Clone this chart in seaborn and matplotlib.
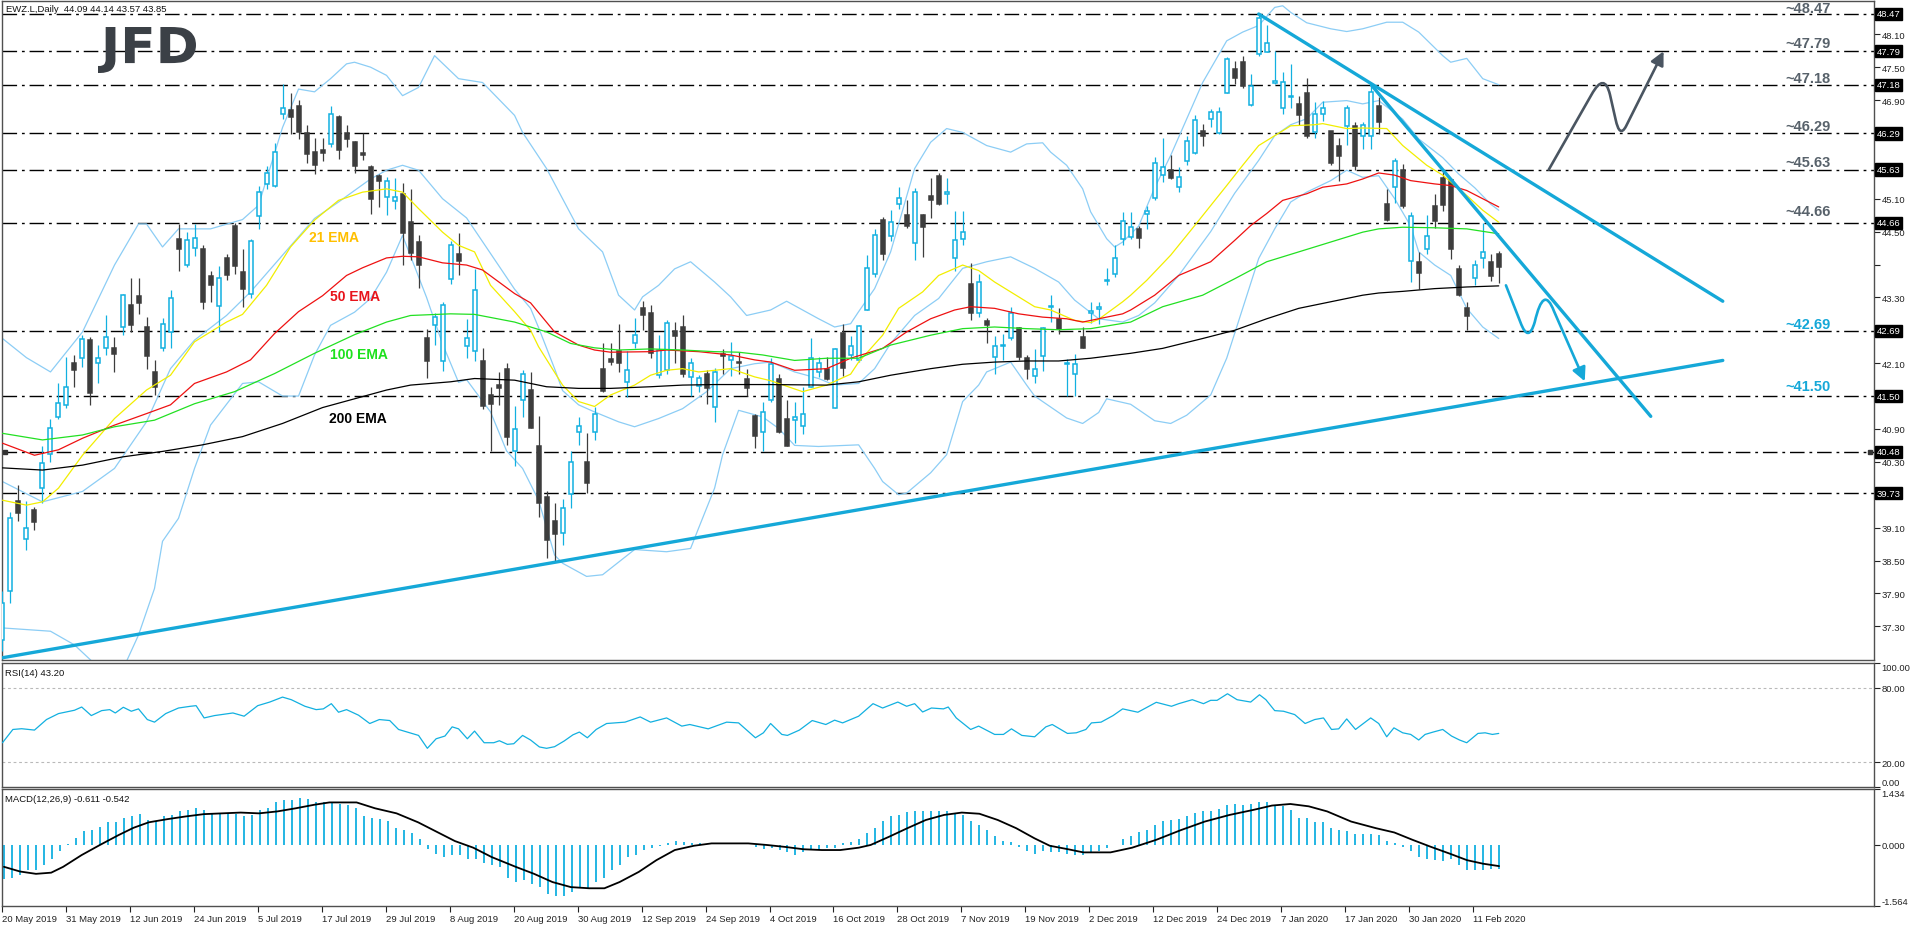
import numpy as np
import pandas as pd
import matplotlib
matplotlib.use("Agg")
import matplotlib.pyplot as plt
import matplotlib.transforms as mtransforms
from matplotlib.path import Path
from matplotlib.patches import FancyArrowPatch, PathPatch, ArrowStyle
from matplotlib.textpath import TextPath
from matplotlib.font_manager import FontProperties
import seaborn as sns

# ---------------------------------
# Daily candles EWZ.L (bar 0 = 20 May 2019)
# ---------------------------------

opens = [37.05, 37.94, 39.58, 38.90, 39.42, 39.83, 40.45, 41.12, 41.34, 42.11,
         42.19, 42.52, 42.11, 42.38, 42.37, 42.76, 43.16, 43.33, 42.76, 41.93,
         42.38, 42.66, 44.37, 43.89, 44.20, 44.19, 43.69, 43.14, 44.02, 44.61,
         43.76, 43.37, 44.78, 45.36, 45.34, 46.64, 46.71, 46.79, 46.30, 45.96,
         45.99, 46.10, 46.59, 46.29, 46.13, 45.93, 45.68, 45.51, 45.13, 45.06,
         45.19, 44.67, 44.31, 42.56, 42.80, 42.14, 43.64, 44.10, 42.42, 42.32,
         42.14, 41.52, 41.70, 41.99, 40.50, 41.43, 41.61, 40.58, 39.65, 39.22,
         39.01, 39.72, 40.85, 40.29, 40.84, 41.99, 42.17, 42.32, 41.75, 42.46,
         43.11, 43.02, 41.89, 41.97, 42.68, 42.76, 41.85, 41.69, 41.91, 41.30,
         42.27, 42.16, 42.12, 41.82, 41.14, 40.84, 41.43, 41.81, 41.09, 41.06,
         40.96, 41.67, 41.94, 42.00, 41.29, 42.65, 42.25, 42.16, 43.07, 43.73,
         44.72, 44.42, 45.00, 44.81, 44.29, 44.81, 45.15, 45.51, 45.19, 44.01,
         44.36, 43.55, 43.02, 42.87, 42.22, 42.42, 42.56, 42.74, 42.19, 41.87,
         42.23, 43.13, 42.90, 42.08, 41.91, 42.58, 43.02, 43.08, 43.59, 43.73,
         44.37, 44.40, 44.55, 44.83, 45.11, 45.53, 45.62, 45.31, 45.78, 45.94,
         46.33, 46.55, 46.30, 47.03, 47.47, 47.60, 46.81, 47.74, 47.78, 47.21,
         46.75, 46.95, 46.83, 47.03, 46.31, 46.65, 46.33, 46.07, 46.42, 46.42,
         46.24, 46.25, 46.80, 45.00, 45.31, 45.62, 43.96, 43.95, 44.18, 44.97,
         45.47, 45.45, 43.82, 43.11, 43.65, 44.01, 43.95, 44.09]

highs = [37.95, 39.39, 39.88, 39.58, 39.48, 40.58, 41.09, 41.73, 42.22, 42.25,
         42.61, 42.58, 42.43, 42.97, 42.58, 43.37, 43.65, 43.65, 42.94, 42.16,
         42.93, 43.44, 44.63, 44.49, 44.64, 44.25, 43.79, 43.87, 44.10, 44.66,
         44.19, 44.37, 45.34, 45.70, 46.12, 47.19, 47.02, 46.90, 46.44, 46.21,
         46.21, 46.80, 46.62, 46.45, 46.16, 46.30, 45.71, 45.55, 45.49, 45.48,
         45.39, 45.28, 44.44, 42.73, 43.02, 43.22, 44.32, 44.48, 42.90, 43.81,
         42.37, 41.67, 41.94, 42.11, 41.32, 41.97, 41.93, 41.14, 39.76, 39.54,
         39.63, 40.49, 41.12, 40.82, 41.30, 42.46, 42.46, 42.82, 42.32, 42.93,
         43.23, 43.16, 42.62, 42.88, 42.85, 42.97, 42.19, 41.89, 41.97, 42.02,
         42.36, 42.49, 42.31, 42.00, 41.17, 41.40, 42.19, 41.91, 41.43, 41.40,
         41.67, 42.56, 42.22, 42.22, 42.37, 42.82, 42.60, 42.80, 44.07, 44.55,
         44.76, 44.89, 45.31, 45.08, 45.29, 44.83, 45.48, 45.57, 45.48, 44.87,
         44.87, 43.93, 43.72, 42.93, 42.60, 42.64, 43.13, 42.76, 42.25, 42.35,
         42.76, 43.34, 43.11, 42.17, 42.26, 42.76, 43.21, 43.22, 43.84, 44.25,
         44.86, 44.86, 44.60, 44.96, 45.86, 46.20, 45.89, 45.68, 46.24, 46.63,
         46.47, 46.73, 46.77, 47.68, 47.62, 47.71, 47.38, 48.47, 48.27, 47.80,
         47.41, 47.56, 46.98, 47.30, 46.87, 46.89, 46.34, 46.21, 46.81, 46.50,
         46.50, 47.20, 46.95, 45.27, 45.84, 45.74, 44.86, 44.12, 44.81, 45.19,
         45.62, 45.48, 43.90, 43.22, 43.98, 44.66, 44.10, 44.14]

lows = [36.85, 37.72, 39.22, 38.69, 39.06, 39.54, 40.30, 41.09, 41.28, 41.67,
        42.03, 41.34, 41.73, 42.25, 41.94, 42.61, 42.66, 43.00, 41.99, 41.52,
        42.32, 42.38, 43.79, 43.86, 44.06, 43.08, 43.22, 42.67, 43.61, 43.73,
        43.13, 43.28, 44.54, 45.28, 45.31, 46.55, 46.28, 46.19, 45.76, 45.56,
        45.78, 46.04, 45.83, 46.04, 45.57, 45.80, 44.83, 44.95, 44.80, 44.91,
        43.89, 43.99, 43.47, 41.83, 42.43, 41.96, 43.55, 43.70, 42.19, 42.14,
        41.27, 40.49, 41.34, 40.61, 40.23, 41.12, 40.91, 39.30, 38.55, 38.48,
        38.79, 39.45, 40.60, 39.73, 40.70, 41.58, 42.06, 41.93, 41.49, 42.38,
        42.70, 42.19, 41.83, 41.91, 42.11, 41.85, 41.51, 41.58, 41.35, 41.03,
        41.91, 41.87, 41.91, 41.51, 40.56, 40.50, 41.40, 40.82, 40.58, 40.64,
        40.80, 41.67, 41.85, 41.79, 41.29, 41.86, 42.16, 42.12, 43.07, 43.67,
        43.99, 44.32, 44.91, 44.57, 43.99, 44.04, 44.75, 44.98, 45.01, 43.78,
        44.26, 42.88, 42.94, 42.46, 41.91, 42.16, 42.52, 42.16, 41.81, 41.73,
        41.95, 42.85, 42.64, 41.51, 41.51, 42.37, 42.84, 42.82, 43.52, 43.67,
        44.26, 44.36, 44.20, 44.55, 45.07, 45.40, 45.46, 45.22, 45.72, 45.92,
        46.07, 46.41, 46.28, 47.03, 47.20, 47.12, 46.80, 47.71, 47.77, 47.19,
        46.65, 46.75, 46.45, 46.21, 46.21, 46.51, 45.72, 45.43, 46.08, 45.62,
        46.01, 46.00, 46.28, 44.69, 45.03, 44.93, 43.58, 43.45, 44.10, 44.57,
        44.87, 44.00, 43.33, 42.70, 43.53, 43.84, 43.59, 43.57]

closes = [37.72, 39.27, 39.36, 39.10, 39.21, 40.27, 40.91, 41.37, 41.67, 41.97,
          42.55, 41.55, 42.20, 42.58, 42.26, 43.34, 42.80, 43.19, 42.23, 41.67,
          42.81, 43.29, 44.18, 44.34, 44.38, 43.22, 43.53, 43.65, 43.70, 43.87,
          43.46, 44.33, 45.23, 45.57, 45.96, 46.75, 46.59, 46.31, 45.92, 45.71,
          45.93, 46.64, 45.98, 46.19, 45.69, 45.89, 45.10, 45.42, 45.43, 45.13,
          44.48, 44.11, 43.89, 42.14, 42.94, 43.16, 44.26, 43.96, 42.56, 43.44,
          41.32, 41.36, 41.64, 40.76, 40.90, 41.91, 40.91, 39.54, 38.88, 38.99,
          39.45, 40.30, 40.96, 39.91, 41.17, 41.59, 42.13, 42.11, 41.97, 42.62,
          42.97, 42.29, 42.34, 42.83, 42.59, 41.91, 42.11, 41.83, 41.64, 41.94,
          42.23, 42.23, 42.10, 41.64, 40.78, 41.21, 42.09, 40.85, 40.59, 41.12,
          41.17, 42.20, 42.11, 41.81, 42.35, 42.02, 42.41, 42.77, 43.84, 44.43,
          44.10, 44.67, 45.12, 44.60, 45.22, 44.58, 45.07, 45.00, 45.23, 44.34,
          44.49, 43.02, 43.58, 42.79, 42.42, 42.43, 43.02, 42.22, 41.99, 42.00,
          42.74, 43.15, 42.73, 42.11, 42.08, 42.38, 43.06, 43.13, 43.62, 44.01,
          44.69, 44.58, 44.38, 44.87, 45.75, 45.68, 45.48, 45.49, 46.16, 46.53,
          46.24, 46.69, 46.68, 47.65, 47.30, 47.16, 47.15, 48.39, 47.94, 47.24,
          47.23, 46.98, 46.62, 46.25, 46.65, 46.75, 45.76, 45.88, 46.75, 45.69,
          46.45, 47.05, 46.50, 44.72, 45.78, 44.97, 44.78, 43.75, 44.42, 44.69,
          44.98, 44.18, 43.35, 42.96, 43.89, 44.12, 43.69, 43.85]

# ---------------------------------
# Moving averages (read at sample bars)
# ---------------------------------

ema21_x = [0, 3, 5, 7, 10, 14, 18, 21, 24, 28, 30, 33, 36, 39, 42, 45, 48, 50, 52, 55,
           57, 59, 61, 64, 66, 67, 70, 72, 74, 76, 79, 81, 83, 85, 87, 91, 94, 96, 98, 100,
           103, 106, 107, 110, 112, 115, 117, 120, 122, 124, 126, 129, 131, 134, 136, 137,
           140, 141, 143, 146, 149, 153, 155, 157, 159, 161, 164, 165, 168, 170, 173, 175,
           178, 180, 183, 185, 187]
ema21_y = [39.60, 39.51, 39.57, 39.82, 40.42, 41.09, 41.61, 41.88, 42.49, 42.85, 42.99,
           43.52, 44.22, 44.71, 45.07, 45.22, 45.28, 45.22, 44.92, 44.49, 44.25, 44.13,
           43.52, 43.04, 42.70, 42.40, 41.70, 41.40, 41.31, 41.52, 41.70, 41.88, 41.97,
           42.00, 41.94, 42.00, 41.85, 41.78, 41.68, 41.58, 41.70, 41.90, 42.12, 42.61,
           43.10, 43.40, 43.70, 43.89, 43.79, 43.58, 43.40, 43.13, 43.07, 42.88, 42.84,
           42.90, 43.22, 43.34, 43.61, 44.07, 44.61, 45.34, 45.71, 46.07, 46.25, 46.43,
           46.45, 46.47, 46.38, 46.39, 46.38, 46.07, 45.71, 45.53, 45.16, 44.89, 44.67]

ema50_x = [0, 4, 7, 10, 14, 18, 21, 24, 28, 31, 34, 37, 40, 43, 45, 48, 50, 52, 55, 58,
           60, 64, 66, 69, 72, 74, 76, 81, 83, 87, 91, 94, 96, 99, 103, 106, 110, 113, 116,
           119, 121, 124, 127, 130, 133, 135, 137, 140, 141, 144, 147, 151, 154, 156, 158,
           160, 163, 165, 168, 170, 172, 174, 176, 179, 181, 183, 185, 187]
ema50_y = [40.64, 40.42, 40.52, 40.73, 40.97, 41.18, 41.34, 41.73, 41.94, 42.16, 42.64,
           43.04, 43.33, 43.70, 43.84, 44.02, 44.05, 44.04, 43.93, 43.89, 43.80, 43.37,
           43.20, 42.67, 42.43, 42.34, 42.30, 42.31, 42.34, 42.31, 42.25, 42.16, 42.12,
           41.97, 42.00, 42.19, 42.37, 42.67, 42.91, 43.07, 43.13, 43.10, 43.00, 42.94,
           42.91, 42.85, 42.91, 43.00, 43.07, 43.34, 43.70, 43.95, 44.34, 44.61, 44.83,
           45.07, 45.19, 45.31, 45.37, 45.46, 45.57, 45.53, 45.43, 45.37, 45.34, 45.25,
           45.10, 44.95]

ema100_x = [0, 5, 10, 14, 19, 24, 29, 34, 39, 44, 48, 51, 56, 59, 64, 68, 71, 74, 77, 81,
            85, 89, 92, 95, 99, 103, 107, 111, 116, 120, 124, 128, 132, 136, 141, 145, 150,
            154, 158, 162, 166, 170, 172, 175, 179, 183, 187]
ema100_y = [40.82, 40.70, 40.79, 40.94, 41.06, 41.36, 41.58, 41.91, 42.28, 42.62, 42.85,
            42.97, 43.00, 42.99, 42.85, 42.67, 42.46, 42.38, 42.34, 42.36, 42.34, 42.31,
            42.30, 42.25, 42.15, 42.19, 42.19, 42.43, 42.61, 42.73, 42.76, 42.73, 42.71,
            42.73, 42.85, 43.13, 43.34, 43.64, 43.95, 44.13, 44.31, 44.49, 44.55, 44.58,
            44.57, 44.55, 44.46]

ema200_x = [0, 5, 10, 15, 20, 25, 30, 35, 40, 45, 48, 51, 56, 59, 64, 68, 72, 76, 81, 85,
            89, 96, 103, 107, 111, 116, 120, 124, 128, 132, 136, 141, 145, 150, 154, 158,
            162, 166, 170, 172, 175, 179, 183, 187]
ema200_y = [40.19, 40.15, 40.24, 40.39, 40.49, 40.61, 40.76, 41.00, 41.29, 41.49, 41.61,
            41.70, 41.76, 41.82, 41.79, 41.67, 41.64, 41.64, 41.67, 41.70, 41.71, 41.71,
            41.70, 41.76, 41.88, 42.00, 42.08, 42.12, 42.14, 42.14, 42.19, 42.28, 42.37,
            42.55, 42.70, 42.91, 43.10, 43.22, 43.34, 43.38, 43.41, 43.46, 43.49, 43.51]

# ---------------------------------
# Bollinger bands (read at sample bars)
# ---------------------------------

bb_up_x = [0, 3, 6, 10, 14, 17, 18, 20, 22, 26, 30, 32, 35, 37, 39, 41, 43, 44, 46, 48,
           50, 52, 54, 57, 60, 64, 65, 68, 72, 75, 77, 79, 80, 82, 84, 86, 89, 91, 93, 96,
           98, 102, 104, 106, 107, 109, 111, 114, 116, 118, 120, 123, 126, 128, 130, 131,
           133, 135, 136, 138, 139, 140, 142, 144, 146, 150, 153, 155, 157, 159, 160, 161,
           163, 166, 168, 170, 173, 175, 177, 180, 181, 183, 185, 187]
bb_up_y = [42.55, 42.20, 41.94, 42.67, 43.89, 44.64, 44.64, 44.22, 44.55, 44.55, 44.72,
           44.98, 46.40, 47.10, 47.05, 47.29, 47.56, 47.59, 47.50, 47.35, 46.98, 47.13,
           47.71, 47.29, 47.22, 46.62, 46.31, 45.65, 44.55, 44.13, 43.34, 43.07, 43.31,
           43.52, 43.82, 43.95, 43.58, 43.31, 42.97, 43.07, 43.23, 42.91, 42.76, 42.82,
           43.04, 43.46, 44.13, 45.65, 46.13, 46.38, 46.31, 46.07, 45.95, 46.10, 46.12,
           45.95, 45.71, 45.28, 44.86, 44.37, 44.22, 44.31, 44.60, 45.30, 45.89, 47.22,
           47.98, 48.14, 48.26, 48.59, 48.62, 48.50, 48.31, 48.20, 48.15, 48.20, 48.32,
           48.32, 48.14, 47.71, 47.59, 47.66, 47.29, 47.18]

bb_mid_x = [0, 5, 10, 14, 18, 21, 24, 28, 31, 35, 39, 42, 46, 48, 50, 52, 55, 58, 61, 64,
            66, 67, 69, 70, 72, 74, 77, 79, 82, 85, 88, 91, 94, 96, 99, 102, 104, 107, 109,
            111, 114, 117, 120, 123, 126, 129, 132, 134, 137, 140, 142, 144, 147, 151, 154,
            157, 159, 161, 163, 165, 168, 170, 172, 175, 177, 180, 182, 184, 186, 187]
bb_mid_y = [39.94, 39.57, 39.76, 40.18, 41.03, 42.00, 42.52, 42.97, 43.40, 44.07, 44.74,
            45.04, 45.46, 45.62, 45.71, 45.62, 45.10, 44.75, 44.10, 43.45, 43.10, 42.75,
            42.00, 41.60, 41.34, 41.21, 41.03, 40.94, 41.09, 41.27, 41.58, 42.00, 42.09,
            42.12, 41.94, 41.82, 41.70, 41.73, 42.00, 42.46, 42.97, 43.28, 43.83, 43.95,
            44.04, 43.83, 43.58, 43.25, 42.91, 42.85, 42.97, 43.20, 43.70, 44.50, 45.20,
            45.80, 46.25, 46.45, 46.56, 46.86, 46.89, 46.83, 46.89, 46.55, 46.19, 45.85,
            45.55, 45.30, 45.00, 44.89]

bb_lo_x = [0, 6, 9, 12, 15, 17, 19, 20, 22, 24, 26, 30, 32, 35, 37, 39, 41, 44, 46, 48,
           50, 53, 55, 57, 58, 61, 63, 65, 67, 69, 70, 73, 75, 79, 83, 86, 87, 89, 90, 92,
           95, 97, 99, 102, 107, 109, 110, 112, 113, 116, 118, 120, 122, 123, 126, 128, 129,
           131, 133, 135, 137, 138, 141, 144, 146, 148, 151, 153, 155, 157, 159, 161, 163,
           166, 168, 170, 172, 174, 176, 177, 179, 181, 183, 185, 187]
bb_lo_y = [37.27, 37.21, 36.96, 36.55, 36.50, 37.14, 37.99, 38.85, 39.27, 40.18, 40.97,
           41.73, 41.76, 41.50, 41.50, 42.25, 42.79, 43.03, 43.28, 43.76, 44.43, 43.30,
           42.45, 41.75, 41.80, 41.21, 40.50, 40.18, 39.60, 38.60, 38.45, 38.21, 38.24,
           38.70, 38.66, 38.72, 39.09, 39.82, 40.43, 41.24, 41.12, 40.91, 40.60, 40.58,
           40.61, 40.18, 39.94, 39.70, 39.73, 40.10, 40.43, 41.40, 41.70, 41.94, 42.12,
           41.70, 41.50, 41.30, 41.10, 41.00, 41.20, 41.45, 41.35, 41.05, 41.00, 41.15,
           41.52, 42.19, 43.10, 44.01, 44.55, 45.04, 45.22, 45.43, 45.62, 45.49, 45.52,
           45.10, 44.60, 44.13, 43.89, 43.70, 43.10, 42.76, 42.55]

# ---------------------------------
# RSI(14)
# ---------------------------------

rsi_x = [0, 1.3, 2.4, 4, 5.5, 7, 9, 9.9, 11.1, 12.4, 13.4, 14.1, 15.1, 16.1, 17, 18.1,
         19, 20.4, 22, 23.5, 24.2, 25.2, 26.5, 28.8, 30.2, 31.9, 33.4, 35, 36.1, 37.8,
         39.2, 40.1, 41.1, 42, 43, 44.5, 45.9, 47.1, 48.4, 49.5, 50.9, 52, 53.1, 54.2,
         55.3, 56.2, 57, 58.1, 59, 60.2, 61.4, 62.1, 63.1, 63.9, 65, 66, 67.1, 68, 69,
         70.2, 71.3, 72.1, 73.1, 74.2, 75.5, 77.8, 79.7, 81, 83, 84.9, 85.9, 88.2, 90.5,
         92, 94.1, 95.1, 96, 97.4, 98.1, 99.6, 101.2, 102.9, 104, 105, 107, 108.8, 110,
         111.9, 113, 114, 115, 116.1, 117.6, 118.2, 119.2, 121, 122, 124, 125.1, 126.1,
         127.4, 129, 130.4, 131.2, 133.1, 134.2, 135.4, 136.1, 137.3, 138.8, 140, 141.9,
         144.2, 146.1, 147, 148.7, 150.1, 151, 151.8, 153.1, 154.3, 156, 157.1, 157.9,
         159, 160.1, 161.5, 162.8, 164, 165.1, 166.1, 167, 168, 169.1, 171, 172, 173,
         173.9, 175, 176, 177, 177.8, 178.8, 180, 181.1, 182.1, 183, 184.4, 185.3, 186.2,
         187]
rsi_y = [35.7, 46.4, 47.0, 45.9, 54.4, 59.2, 61.9, 64.5, 57.6, 61.6, 62.4, 59.7, 64.3,
         61.1, 63.0, 54.4, 52.3, 59.2, 63.7, 65.1, 65.6, 55.7, 57.6, 59.7, 57.1, 65.6,
         68.5, 72.5, 70.4, 65.1, 62.4, 63.0, 67.2, 60.3, 62.4, 57.9, 51.2, 54.4, 53.6,
         46.4, 43.7, 41.6, 31.2, 38.9, 41.1, 48.5, 46.9, 38.9, 45.1, 35.7, 35.7, 37.3,
         34.4, 34.9, 41.6, 37.9, 32.3, 31.2, 32.5, 37.1, 42.1, 44.3, 39.7, 46.4, 51.2,
         52.3, 56.5, 52.3, 55.7, 49.1, 50.4, 46.9, 52.3, 51.7, 39.7, 43.7, 51.2, 42.4,
         41.6, 45.9, 53.6, 50.4, 53.9, 51.7, 57.1, 67.2, 63.7, 68.5, 65.1, 67.2, 60.5,
         63.7, 63.0, 64.5, 55.7, 46.4, 49.1, 42.4, 42.4, 46.9, 41.6, 40.5, 48.5, 50.4,
         43.2, 43.7, 46.4, 51.7, 52.3, 57.6, 63.0, 60.3, 68.3, 65.1, 67.2, 70.4, 67.2,
         69.9, 69.9, 75.2, 70.4, 68.5, 74.4, 70.4, 61.6, 61.1, 58.4, 51.2, 54.4, 55.7,
         46.4, 46.9, 54.9, 46.4, 55.7, 51.2, 40.5, 47.7, 43.7, 42.4, 37.9, 42.4, 44.3,
         46.4, 41.1, 37.9, 35.7, 43.2, 43.7, 42.4, 43.2]

# ---------------------------------
# MACD(12,26,9): histogram per bar, signal at sample bars
# ---------------------------------

macd_hist = [-0.88, -0.85, -0.78, -0.65, -0.65, -0.52, -0.35, -0.16, 0.02, 0.17,
             0.36, 0.38, 0.47, 0.58, 0.58, 0.70, 0.73, 0.79, 0.64, 0.61,
             0.73, 0.77, 0.86, 0.90, 0.94, 0.90, 0.81, 0.81, 0.81, 0.79,
             0.73, 0.77, 0.90, 0.94, 1.10, 1.16, 1.16, 1.20, 1.18, 1.10,
             1.10, 1.10, 1.05, 1.03, 0.94, 0.73, 0.68, 0.67, 0.61, 0.43,
             0.38, 0.30, 0.15, -0.11, -0.22, -0.31, -0.25, -0.25, -0.37, -0.35,
             -0.45, -0.52, -0.56, -0.85, -0.94, -0.91, -1.00, -1.08, -1.25, -1.31,
             -1.30, -1.21, -1.11, -1.12, -0.95, -0.85, -0.65, -0.52, -0.31, -0.26,
             -0.13, -0.07, -0.02, 0.06, 0.10, 0.08, 0.06, 0.04, 0.01, 0.00,
             -0.01, -0.01, 0.00, -0.01, -0.05, -0.11, -0.09, -0.13, -0.19, -0.26,
             -0.19, -0.13, -0.13, -0.09, -0.09, 0.04, 0.08, 0.15, 0.30, 0.43,
             0.61, 0.73, 0.77, 0.84, 0.86, 0.86, 0.86, 0.87, 0.86, 0.81,
             0.77, 0.61, 0.51, 0.38, 0.24, 0.10, 0.08, -0.05, -0.16, -0.22,
             -0.16, -0.18, -0.19, -0.22, -0.26, -0.25, -0.18, -0.16, -0.09, 0.01,
             0.15, 0.24, 0.34, 0.38, 0.51, 0.61, 0.64, 0.67, 0.73, 0.81,
             0.86, 0.87, 0.92, 1.03, 1.05, 1.03, 1.05, 1.10, 1.11, 1.03,
             0.99, 0.90, 0.70, 0.70, 0.60, 0.58, 0.44, 0.38, 0.36, 0.27,
             0.27, 0.27, 0.25, 0.10, 0.06, -0.05, -0.16, -0.31, -0.37, -0.39,
             -0.42, -0.35, -0.51, -0.65, -0.65, -0.63, -0.61, -0.611]

sig_x = [0, 2, 4, 5.9, 7.4, 9.7, 12, 14.3, 16.2, 18.1, 20.4, 22.7, 25, 27.3, 29.6, 31.9,
         34.2, 36.5, 38.8, 40.7, 44.1, 46.4, 49.1, 51.8, 54.1, 56.4, 58.7, 61, 64, 66.3,
         68.6, 70.9, 73.2, 75.1, 77, 79.4, 81.6, 83.9, 86.3, 88.5, 90.8, 93.1, 95.4, 97.7,
         100, 102.3, 104.6, 106.9, 108.4, 110.7, 113, 115.3, 117.6, 119.8, 122, 124.3,
         126.6, 128.9, 130.8, 133.1, 135, 138.4, 141.1, 144.1, 147.2, 150.2, 153.3, 156.3,
         158.6, 160.9, 163.2, 165.5, 168.5, 171.6, 173.9, 176.2, 178.5, 180.8, 183, 185, 187]
sig_y = [-0.56, -0.68, -0.74, -0.71, -0.56, -0.26, 0.0, 0.25, 0.44, 0.58, 0.66, 0.73, 0.79,
         0.81, 0.83, 0.81, 0.86, 0.94, 1.03, 1.09, 1.09, 0.94, 0.81, 0.58, 0.34, 0.10,
         -0.07, -0.31, -0.56, -0.74, -0.95, -1.08, -1.11, -1.11, -0.95, -0.69, -0.39,
         -0.13, -0.02, 0.04, 0.04, 0.04, 0.0, -0.05, -0.11, -0.13, -0.13, -0.07, 0.0,
         0.21, 0.43, 0.64, 0.77, 0.83, 0.80, 0.64, 0.43, 0.17, -0.02, -0.11, -0.19, -0.19,
         -0.07, 0.13, 0.38, 0.60, 0.77, 0.90, 1.01, 1.05, 0.99, 0.86, 0.60, 0.43, 0.32,
         0.13, -0.05, -0.22, -0.39, -0.48, -0.542]

# ---------------------------------
# Levels, trend lines, labels
# ---------------------------------

levels = [48.47, 47.79, 47.18, 46.29, 45.63, 44.66, 42.69, 41.50, 40.48, 39.73]
level_labels = ["~48.47", "~47.79", "~47.18", "~46.29", "~45.63", "~44.66", "~42.69", "~41.50"]
price_ticks = [37.30, 37.90, 38.50, 39.10, 39.70, 40.30, 40.90, 41.50, 42.10, 42.70,
               43.30, 43.90, 44.50, 45.10, 45.70, 46.30, 46.90, 47.50, 48.10]

support_x, support_y = [-0.25, 215.0], [36.72, 42.15]
resist1_x, resist1_y = [157.0, 215.0], [48.47, 43.23]
resist2_x, resist2_y = [171.1, 206.0], [47.17, 41.13]

bull_path_x = [193.25, 198.6, 200.2, 200.9, 201.6, 202.1, 202.9, 207.6]
bull_path_y = [45.63, 47.00, 47.42, 47.00, 46.55, 46.20, 46.42, 47.79]
bear_path_x = [187.9, 189.7, 190.7, 191.5, 192.6, 193.9, 197.75]
bear_path_y = [43.52, 42.85, 42.45, 42.85, 43.55, 43.05, 41.77]

date_bars = list(range(0, 185, 8))
date_labels = ["20 May 2019", "31 May 2019", "12 Jun 2019", "24 Jun 2019", "5 Jul 2019",
               "17 Jul 2019", "29 Jul 2019", "8 Aug 2019", "20 Aug 2019", "30 Aug 2019",
               "12 Sep 2019", "24 Sep 2019", "4 Oct 2019", "16 Oct 2019", "28 Oct 2019",
               "7 Nov 2019", "19 Nov 2019", "2 Dec 2019", "12 Dec 2019", "24 Dec 2019",
               "7 Jan 2020", "17 Jan 2020", "30 Jan 2020", "11 Feb 2020"]

# ---------------------------------
# Style
# ---------------------------------

sns.set_theme(style="white")
plt.rcParams["font.family"] = ["Liberation Sans", "DejaVu Sans"]

CYAN = "#12b0e0"
DARK = "#3d3d3d"
BAND = "#8ccdf5"
TREND = "#15a8d8"
GREY_TXT = "#58626b"
SPINE = "#505050"

W, H = 1916, 928
fig = plt.figure(figsize=(W / 100, H / 100), dpi=100)
fig.patch.set_facecolor("white")


def px_axes(left, top, right, bottom):
    return fig.add_axes([left / W, 1 - bottom / H, (right - left) / W, (bottom - top) / H])


def ftext(xp, yp, s, **kw):
    fig.text(xp / W, 1 - yp / H, s, **kw)


ax = px_axes(2, 2, 1874, 661)
ax_rsi = px_axes(2, 664, 1874, 788)
ax_macd = px_axes(2, 790, 1874, 907)

XMIN, XMAX = -0.06, 233.9

for a in (ax, ax_rsi, ax_macd):
    a.set_facecolor("white")
    a.set_xlim(XMIN, XMAX)
    for sp in a.spines.values():
        sp.set_color(SPINE)
        sp.set_linewidth(1.0)
    a.grid(False)

# ---------------------------------
# Main panel
# ---------------------------------

ax.set_ylim(36.685, 48.707)

for lvl in levels:
    ax.axhline(lvl, color="black", lw=1.0, ls=(0, (10.5, 3.5, 2, 3.5)), zorder=1.5)

for bx, by in ((bb_up_x, bb_up_y), (bb_mid_x, bb_mid_y), (bb_lo_x, bb_lo_y)):
    sns.lineplot(x=bx, y=by, ax=ax, color=BAND, linewidth=0.9, zorder=2)

df = pd.DataFrame({"bar": np.arange(len(opens)), "open": opens, "high": highs,
                   "low": lows, "close": closes})
up = df[df["close"] >= df["open"]]
dn = df[df["close"] < df["open"]]

ax.vlines(up["bar"], up["low"], up["high"], color=CYAN, lw=0.9, zorder=3)
ax.vlines(dn["bar"], dn["low"], dn["high"], color=DARK, lw=0.9, zorder=3)
ax.bar(up["bar"], np.maximum(up["close"] - up["open"], 0.02), bottom=up["open"],
       width=0.5, facecolor="white", edgecolor=CYAN, linewidth=1.1, zorder=4)
ax.bar(dn["bar"], np.maximum(dn["open"] - dn["close"], 0.02), bottom=dn["close"],
       width=0.5, facecolor=DARK, edgecolor=DARK, linewidth=1.1, zorder=4)

for ex, ey, col in ((ema21_x, ema21_y, "#f2ee00"), (ema50_x, ema50_y, "#ee1111"),
                    (ema100_x, ema100_y, "#22e022"), (ema200_x, ema200_y, "#000000")):
    sns.lineplot(x=ex, y=ey, ax=ax, color=col, linewidth=0.9, zorder=5)

for tx, ty in ((support_x, support_y), (resist1_x, resist1_y), (resist2_x, resist2_y)):
    sns.lineplot(x=tx, y=ty, ax=ax, color=TREND, linewidth=2.4, zorder=6)

# projected paths
bull_codes = [Path.MOVETO, Path.LINETO, Path.CURVE3, Path.CURVE3, Path.LINETO,
              Path.CURVE3, Path.CURVE3, Path.LINETO]
bear_codes = [Path.MOVETO, Path.LINETO, Path.CURVE3, Path.CURVE3, Path.CURVE3,
              Path.CURVE3, Path.LINETO]
for px_, py_, codes, col in ((bull_path_x, bull_path_y, bull_codes, "#4a5561"),
                             (bear_path_x, bear_path_y, bear_codes, TREND)):
    arrow = FancyArrowPatch(path=Path(np.column_stack([px_, py_]), codes),
                            arrowstyle=ArrowStyle("-|>", head_length=0.9, head_width=0.45),
                            mutation_scale=9, color=col, lw=1.9,
                            transform=ax.transData, zorder=7)
    ax.add_patch(arrow)

# level labels
label_offsets_px = [6, 8.5, 6.5, 7, 8, 12, 7, 10]
for lvl, txt, off in zip(levels, level_labels, label_offsets_px):
    col = TREND if lvl in (42.69, 41.50) else GREY_TXT
    ax.annotate(txt, xy=(222.8, lvl), xytext=(0, off * 0.72), textcoords="offset points",
                ha="left", va="center", fontsize=10.5, fontweight="bold", color=col,
                zorder=8)

# EMA labels
ax.text(38.3, 44.41, "21 EMA", color="#ffbf00", fontsize=10, fontweight="bold",
        va="center", ha="left", zorder=8)
ax.text(40.9, 43.32, "50 EMA", color="#e8141b", fontsize=10, fontweight="bold",
        va="center", ha="left", zorder=8)
ax.text(40.9, 42.26, "100 EMA", color="#1de11d", fontsize=10, fontweight="bold",
        va="center", ha="left", zorder=8)
ax.text(40.8, 41.10, "200 EMA", color="black", fontsize=10, fontweight="bold",
        va="center", ha="left", zorder=8)

# right price axis: plain tick labels hidden where a boxed level label sits on top
tick_text = []
for t in price_ticks:
    hidden = abs(t - 43.90) < 1e-6 or min(abs(t - lv) for lv in levels) < 0.12
    tick_text.append("" if hidden else f"{t:.2f}")
ax.yaxis.tick_right()
ax.set_yticks(price_ticks)
ax.set_yticklabels(tick_text)
ax.tick_params(axis="y", which="both", right=True, left=False, labelright=True,
               labelleft=False, length=4, width=0.8, direction="out", pad=1.5,
               labelsize=6.8, colors="#222222")
ax.set_xticks([])
ax.set_xlabel("")
ax.set_ylabel("")

blend = mtransforms.blended_transform_factory(ax.transAxes, ax.transData)
for lvl in levels:
    ax.text(1.0013, lvl, f"{lvl:.2f}", transform=blend, ha="left", va="center",
            fontsize=6.8, color="white", clip_on=False, zorder=10,
            bbox=dict(boxstyle="square,pad=0.18", fc="black", ec="black"))
ax.plot([0.0015, 0.9978], [40.48, 40.48], transform=blend, ls="none", marker="s",
        ms=3, mfc="#333333", mec="#333333", clip_on=False, zorder=9)

# ---------------------------------
# RSI panel
# ---------------------------------

ax_rsi.set_ylim(0, 100)
ax_rsi.axhline(80, color="#b9b9b9", lw=0.8, ls=(0, (2.5, 2.5)), zorder=1)
ax_rsi.axhline(20, color="#b9b9b9", lw=0.8, ls=(0, (2.5, 2.5)), zorder=1)
sns.lineplot(x=rsi_x, y=rsi_y, ax=ax_rsi, color=CYAN, linewidth=0.9, zorder=3)
ax_rsi.yaxis.tick_right()
ax_rsi.set_yticks([0, 20, 80, 100])
ax_rsi.set_yticklabels(["0.00", "20.00", "80.00", "100.00"])
ax_rsi.tick_params(axis="y", right=True, left=False, labelright=True, labelleft=False,
                   length=4, width=0.8, direction="out", pad=1.5, labelsize=6.8,
                   colors="#222222")
lbls = ax_rsi.get_yticklabels()
lbls[0].set_va("bottom")
lbls[-1].set_va("top")
ax_rsi.set_xticks([])
ax_rsi.set_xlabel("")
ax_rsi.set_ylabel("")

# ---------------------------------
# MACD panel
# ---------------------------------

ax_macd.set_ylim(-1.564, 1.434)
ax_macd.vlines(np.arange(len(macd_hist)), 0, macd_hist, color=CYAN, lw=1.3, zorder=2)
sns.lineplot(x=sig_x, y=sig_y, ax=ax_macd, color="black", linewidth=1.3, zorder=3)
ax_macd.yaxis.tick_right()
ax_macd.set_yticks([-1.564, 0.0, 1.434])
ax_macd.set_yticklabels(["-1.564", "0.000", "1.434"])
ax_macd.tick_params(axis="y", right=True, left=False, labelright=True, labelleft=False,
                    length=4, width=0.8, direction="out", pad=1.5, labelsize=6.8,
                    colors="#222222")
mlbls = ax_macd.get_yticklabels()
mlbls[0].set_va("bottom")
mlbls[-1].set_va("top")
ax_macd.set_xticks([b - 0.25 for b in date_bars])
ax_macd.set_xticklabels(date_labels, ha="left")
ax_macd.tick_params(axis="x", bottom=True, length=4, width=0.8, direction="out", pad=2,
                    labelsize=6.8, colors="#222222")
ax_macd.set_xlabel("")
ax_macd.set_ylabel("")

# ---------------------------------
# Header texts and logo
# ---------------------------------

ftext(6, 9, "EWZ.L,Daily  44.09 44.14 43.57 43.85", fontsize=6.8, va="center",
      ha="left", color="#111111")
ftext(5, 673, "RSI(14) 43.20", fontsize=6.8, va="center", ha="left", color="#111111")
ftext(5, 799, "MACD(12,26,9) -0.611 -0.542", fontsize=6.8, va="center", ha="left",
      color="#111111")

fp = FontProperties(family="DejaVu Sans", weight="bold")
tp = TextPath((0, 0), "JFD", size=100, prop=fp)
ext = tp.get_extents()
logo_tr = (mtransforms.Affine2D().translate(-ext.x0, -ext.y0)
           .scale(98 / ext.width, 46 / ext.height).translate(98, H - 74))
fig.add_artist(PathPatch(tp, transform=logo_tr, facecolor="#3b4046", edgecolor="none"))

fig.savefig("out.png", dpi=100)
